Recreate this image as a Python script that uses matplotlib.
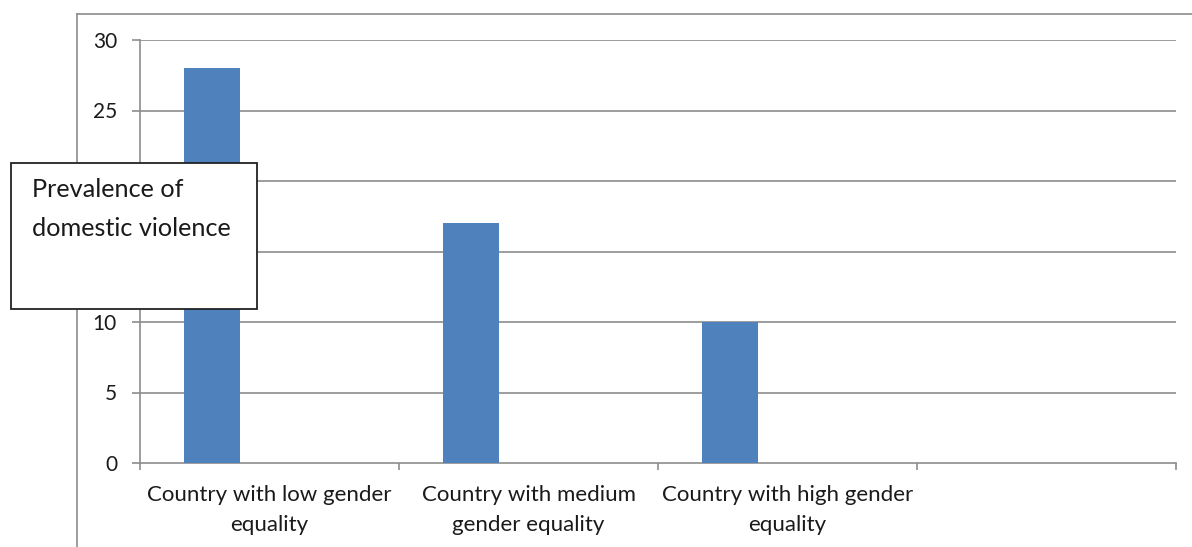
import matplotlib
matplotlib.use("Agg")
import matplotlib.pyplot as plt
from matplotlib.patches import Rectangle
from matplotlib.lines import Line2D

categories = ["Country with low gender\nequality",
              "Country with medium\ngender equality",
              "Country with high gender\nequality",
              ""]
values = [28, 17, 10, None]
yticks = [0, 5, 10, 15, 20, 25, 30]
ytick_labels = ["0", "5", "10", "", "", "25", "30"]
box_text = "Prevalence of\ndomestic violence"

W, H = 1192, 547
fig = plt.figure(figsize=(W / 100, H / 100), dpi=100)
plt.rcParams['font.family'] = ['Lato', 'DejaVu Sans']

grid_c = "#8c8c8c"
bar_c = "#4f81bd"
txt_c = "#1a1a1a"
PX = 72 / 100  # points per pixel

fig.add_artist(Line2D([77 / W, 1.0], [1 - 14 / H, 1 - 14 / H], color=grid_c, lw=1.2, transform=fig.transFigure))
fig.add_artist(Line2D([77 / W, 77 / W], [1 - 14 / H, 0], color=grid_c, lw=1.2, transform=fig.transFigure))

left, right, top, bottom = 140, 1176, 40, 463
ax = fig.add_axes([left / W, 1 - bottom / H, (right - left) / W, (bottom - top) / H])
ax.set_xlim(0, len(categories))
ax.set_ylim(0, 30)

xs = [i + 0.278 for i, v in enumerate(values) if v is not None]
hs = [v for v in values if v is not None]
ax.bar(xs, hs, width=0.216, color=bar_c, zorder=3, edgecolor="none")

for y in yticks[1:]:
    ax.axhline(y, color=grid_c, lw=1.2, zorder=1)
for s in ["top", "right"]:
    ax.spines[s].set_visible(False)
for s in ["left", "bottom"]:
    ax.spines[s].set_color(grid_c)
    ax.spines[s].set_linewidth(1.2)

ax.set_yticks(yticks)
ax.set_yticklabels(ytick_labels)
ax.tick_params(axis="y", length=8 * PX, color=grid_c, width=1.2, pad=15 * PX, labelsize=15, labelcolor=txt_c)

ax.set_xticks(range(len(categories) + 1))
ax.set_xticklabels([""] * (len(categories) + 1))
ax.tick_params(axis="x", length=7 * PX, color=grid_c, width=1.2, direction="out")
ax.set_xticks([i + 0.5 for i in range(len(categories))], minor=True)
ax.set_xticklabels(categories, minor=True)
ax.tick_params(axis="x", which="minor", length=0, pad=22 * PX, labelsize=16, labelcolor=txt_c)
for lbl in ax.get_xticklabels(minor=True):
    lbl.set_linespacing(1.62)

fig.add_artist(Rectangle((11 / W, 1 - 309 / H), 246 / W, 146 / H, transform=fig.transFigure,
                         facecolor="white", edgecolor="#222222", lw=1.3, zorder=10))
fig.text(32 / W, 1 - 178 / H, box_text, fontsize=18.2, color=txt_c, va="top", ha="left",
         linespacing=1.82, zorder=11)

fig.savefig("out.png", dpi=100)
